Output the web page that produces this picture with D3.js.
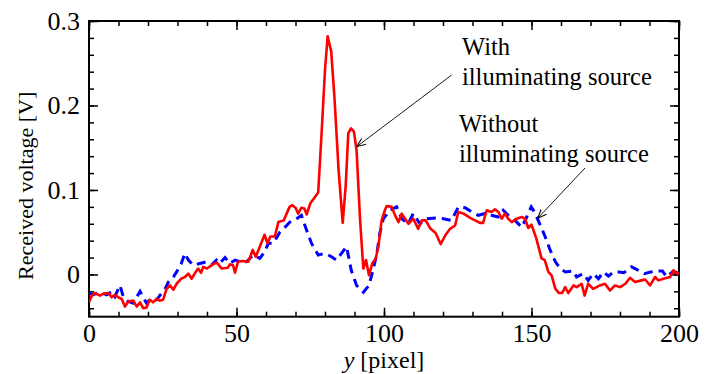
<!DOCTYPE html>
<html>
<head>
<meta charset="utf-8">
<script src="https://cdn.jsdelivr.net/npm/d3@7"></script>
<style>
  body { margin: 0; background: #fff; }
  svg { display: block; }
  svg text { font-family: "Liberation Serif", "DejaVu Serif", serif; }
</style>
</head>
<body>
<svg id="chart" width="715" height="374"></svg>
<script>
// data: y position [pixel] vs received voltage [V]
const redPix = [0, 1, 2, 3.7, 4.8, 6.6, 7.7, 8.8, 9.9, 11.1, 12.2, 13.3, 15, 16.2, 17.3, 18.4, 19.5, 20.6, 21.7, 22.9, 24, 25.1, 26.3, 27.5, 28.6, 29.7, 31.3, 32.5, 33.7, 34.8, 36, 37, 38, 38.7, 40, 42, 43.3, 45, 47, 47.8, 48.8, 49.5, 50.5, 52, 54, 55.5, 56.5, 57.8, 59.5, 60.5, 61.5, 63, 64.2, 66, 68, 68.9, 70, 70.9, 72, 73, 73.8, 75, 77.7, 78.9, 80, 80.9, 82.1, 83.2, 84.6, 86, 87, 87.9, 88.8, 89.8, 90.7, 91.9, 93, 93.9, 94.9, 96, 97.2, 98.1, 99.2, 100.3, 100.9, 102.6, 103.5, 104.9, 106, 107.1, 108.3, 109.9, 111.6, 112.8, 114.1, 115.8, 117.5, 119.2, 120.9, 122.4, 124.1, 125.2, 127, 129.2, 130.9, 132.5, 133.6, 134.8, 136.4, 137.6, 138.8, 139.9, 141, 142.1, 143.3, 145, 146.7, 147.8, 148.9, 150, 151.6, 153.4, 154.5, 155.7, 156.8, 158.1, 159.3, 160.4, 161.4, 162.5, 164.2, 165.3, 167, 168, 169.2, 170.9, 173.2, 174.9, 176.6, 178.3, 180.1, 181.8, 183.4, 185.1, 187.3, 188.5, 190.2, 191.9, 193, 194.7, 197, 198.1, 199.3, 200];
const redVolt = [-0.033, -0.025, -0.022, -0.025, -0.023, -0.022, -0.027, -0.024, -0.027, -0.029, -0.038, -0.032, -0.031, -0.038, -0.033, -0.040, -0.039, -0.030, -0.033, -0.029, -0.031, -0.030, -0.017, -0.013, -0.018, -0.011, -0.005, -0.003, 0.001, -0.005, 0.002, 0.007, 0.002, 0.009, 0.007, 0.012, 0.014, 0.007, 0.008, 0.012, 0.011, 0.002, 0.015, 0.016, 0.015, 0.029, 0.021, 0.032, 0.047, 0.037, 0.045, 0.045, 0.062, 0.064, 0.080, 0.082, 0.079, 0.072, 0.079, 0.078, 0.071, 0.084, 0.097, 0.171, 0.242, 0.282, 0.264, 0.210, 0.124, 0.061, 0.104, 0.167, 0.173, 0.169, 0.147, 0.064, 0.007, 0.017, -0.001, 0.013, 0.019, 0.033, 0.064, 0.076, 0.081, 0.080, 0.072, 0.062, 0.072, 0.066, 0.060, 0.066, 0.054, 0.064, 0.064, 0.054, 0.049, 0.036, 0.047, 0.054, 0.058, 0.074, 0.072, 0.067, 0.064, 0.061, 0.061, 0.076, 0.074, 0.077, 0.074, 0.066, 0.072, 0.066, 0.062, 0.066, 0.068, 0.066, 0.055, 0.059, 0.043, 0.019, 0.017, 0.003, -0.001, -0.017, -0.022, -0.022, -0.015, -0.022, -0.013, -0.015, -0.011, -0.025, -0.011, -0.017, -0.013, -0.011, -0.019, -0.013, -0.015, -0.011, -0.004, -0.009, -0.007, -0.006, -0.013, -0.003, -0.007, -0.005, -0.003, 0.005, 0.001, 0.002];

const bluePix = [0, 1.5, 3.7, 6, 7.8, 8.8, 10.5, 11.6, 13.3, 15, 17.3, 19.5, 21.2, 22.9, 24, 25.8, 26.9, 28.6, 29.7, 31.3, 32.5, 33.7, 35.3, 37.6, 39.8, 41.5, 43.2, 44.3, 46.1, 47.8, 49.5, 51.2, 53.4, 55.7, 57.9, 59.6, 60.8, 62.5, 64.7, 67, 68.1, 70.4, 72, 73.8, 75.4, 77.7, 80, 82.2, 83.9, 85.6, 87.3, 88.9, 90.7, 93, 94.9, 96.4, 97.5, 98.6, 99.8, 102, 104.3, 106, 108.2, 109.9, 112.2, 114.4, 117.8, 120.1, 122.9, 125.2, 127.5, 129.7, 132, 134.2, 136.4, 138.7, 140.4, 142.1, 144.4, 146.7, 148.4, 149.9, 151, 152.9, 154.6, 156.3, 158.1, 159.8, 161.5, 164.2, 165.3, 167.5, 169.2, 170.9, 172.7, 174.4, 176.1, 177.8, 179.6, 181.3, 183.9, 185.6, 188.3, 190.5, 192.2, 194.4, 195.8, 197.8, 200];
const blueVolt = [-0.022, -0.024, -0.021, -0.024, -0.020, -0.026, -0.013, -0.026, -0.032, -0.034, -0.020, -0.034, -0.028, -0.030, -0.025, -0.017, -0.009, -0.003, 0.003, 0.013, 0.025, 0.017, 0.011, 0.013, 0.015, 0.011, 0.017, 0.013, 0.020, 0.013, 0.017, 0.015, 0.015, 0.023, 0.019, 0.027, 0.037, 0.037, 0.050, 0.058, 0.062, 0.066, 0.070, 0.052, 0.037, 0.023, 0.025, 0.021, 0.017, 0.025, 0.033, 0.005, -0.013, -0.021, -0.013, 0.007, 0.023, 0.049, 0.066, 0.076, 0.080, 0.066, 0.060, 0.072, 0.060, 0.066, 0.067, 0.066, 0.064, 0.080, 0.079, 0.074, 0.070, 0.072, 0.070, 0.068, 0.076, 0.070, 0.064, 0.056, 0.068, 0.080, 0.074, 0.059, 0.045, 0.029, 0.015, 0.007, 0.003, 0.004, -0.003, 0.001, -0.007, 0.001, -0.005, 0.003, -0.002, 0.003, 0.003, 0.002, 0.009, 0.006, 0.001, 0.003, 0.004, 0.004, -0.003, 0.003, 0.002];

const xTicks = [0, 50, 100, 150, 200];
const yTicks = [0, 0.1, 0.2, 0.3];
const yTickLabels = ["0", "0.1", "0.2", "0.3"];

const svg = d3.select("#chart");
const plotL = 89, plotR = 679, plotT = 21, plotB = 316.7;

const x = d3.scaleLinear().domain([0, 200]).range([plotL, plotR]);
const y = d3.scaleLinear().domain([-0.05, 0.3]).range([plotB, plotT]);

const minorX = d3.range(0, 201, 10);
const minorY = d3.range(-0.04, 0.301, 0.02).map(d => +d.toFixed(2));

// inward ticks on all four sides
function drawAxis(axis, tx, ty) {
  const g = svg.append("g").attr("transform", `translate(${tx},${ty})`).call(axis);
  g.attr("font-family", null);
  g.select(".domain").remove();
  g.selectAll(".tick line").attr("stroke", "#000").attr("stroke-width", 1.5);
  return g;
}

drawAxis(d3.axisBottom(x).tickValues(xTicks).tickSize(-9).tickPadding(7).tickFormat(d3.format("d")), 0, plotB);
drawAxis(d3.axisBottom(x).tickValues(minorX).tickSize(-5).tickFormat(""), 0, plotB);
drawAxis(d3.axisTop(x).tickValues(xTicks).tickSize(-9).tickFormat(""), 0, plotT);
drawAxis(d3.axisTop(x).tickValues(minorX).tickSize(-5).tickFormat(""), 0, plotT);

drawAxis(d3.axisLeft(y).tickValues(yTicks).tickSize(-9).tickPadding(9).tickFormat((d, i) => yTickLabels[i]), plotL, 0);
drawAxis(d3.axisLeft(y).tickValues(minorY).tickSize(-5).tickFormat(""), plotL, 0);
drawAxis(d3.axisRight(y).tickValues(yTicks).tickSize(-9).tickFormat(""), plotR, 0);
drawAxis(d3.axisRight(y).tickValues(minorY).tickSize(-5).tickFormat(""), plotR, 0);

svg.selectAll(".tick text")
  .style("font-family", "'Liberation Serif', serif")
  .attr("font-size", 26)
  .attr("fill", "#000");

// frame
svg.append("rect")
  .attr("x", plotL).attr("y", plotT)
  .attr("width", plotR - plotL).attr("height", plotB - plotT)
  .attr("fill", "none").attr("stroke", "#000").attr("stroke-width", 2);

svg.append("clipPath").attr("id", "plotclip")
  .append("rect").attr("x", plotL).attr("y", plotT)
  .attr("width", plotR - plotL).attr("height", plotB - plotT);

const line = d3.line().x(d => x(d[0])).y(d => y(d[1]));

svg.append("path")
  .datum(bluePix.map((p, i) => [p, blueVolt[i]]))
  .attr("clip-path", "url(#plotclip)")
  .attr("d", line)
  .attr("fill", "none")
  .attr("stroke", "#0000ff")
  .attr("stroke-width", 3)
  .attr("stroke-dasharray", "9,6");

svg.append("path")
  .datum(redPix.map((p, i) => [p, redVolt[i]]))
  .attr("clip-path", "url(#plotclip)")
  .attr("d", line)
  .attr("fill", "none")
  .attr("stroke", "#ff0000")
  .attr("stroke-width", 2.6)
  .attr("stroke-linejoin", "round");

// axis titles
svg.append("text")
  .attr("transform", `translate(33,${(plotT + plotB) / 2 + 17}) rotate(-90)`)
  .attr("text-anchor", "middle")
  .attr("font-size", 22)
  .text("Received voltage [V]");

const xt = svg.append("text")
  .attr("x", (plotL + plotR) / 2)
  .attr("y", 368)
  .attr("text-anchor", "middle")
  .attr("font-size", 24);
xt.append("tspan").attr("font-style", "italic").text("y");
xt.append("tspan").text(" [pixel]");

// annotations with arrows
svg.append("defs").append("marker")
  .attr("id", "arrow")
  .attr("viewBox", "0 0 10 10")
  .attr("refX", 10).attr("refY", 5)
  .attr("markerWidth", 9).attr("markerHeight", 9)
  .attr("markerUnits", "userSpaceOnUse")
  .attr("orient", "auto")
  .append("path")
  .attr("d", "M0,1 L10,5 L0,9")
  .attr("fill", "none")
  .attr("stroke", "#000")
  .attr("stroke-width", 1.2);

const notes = [
  { lines: ["With", "illuminating source"], tx: 462, ty: 55, from: [451.7, 75], to: [356.7, 146.7] },
  { lines: ["Without", "illuminating source"], tx: 459, ty: 132, from: [585, 168], to: [537.7, 218.3] }
];

notes.forEach(n => {
  const t = svg.append("text").attr("font-size", 24.5);
  n.lines.forEach((s, i) => t.append("tspan").attr("x", n.tx).attr("y", n.ty + i * 30).text(s));
  svg.append("line")
    .attr("x1", n.from[0]).attr("y1", n.from[1])
    .attr("x2", n.to[0]).attr("y2", n.to[1])
    .attr("stroke", "#000").attr("stroke-width", 0.9)
    .attr("marker-end", "url(#arrow)");
});
</script>
</body>
</html>
